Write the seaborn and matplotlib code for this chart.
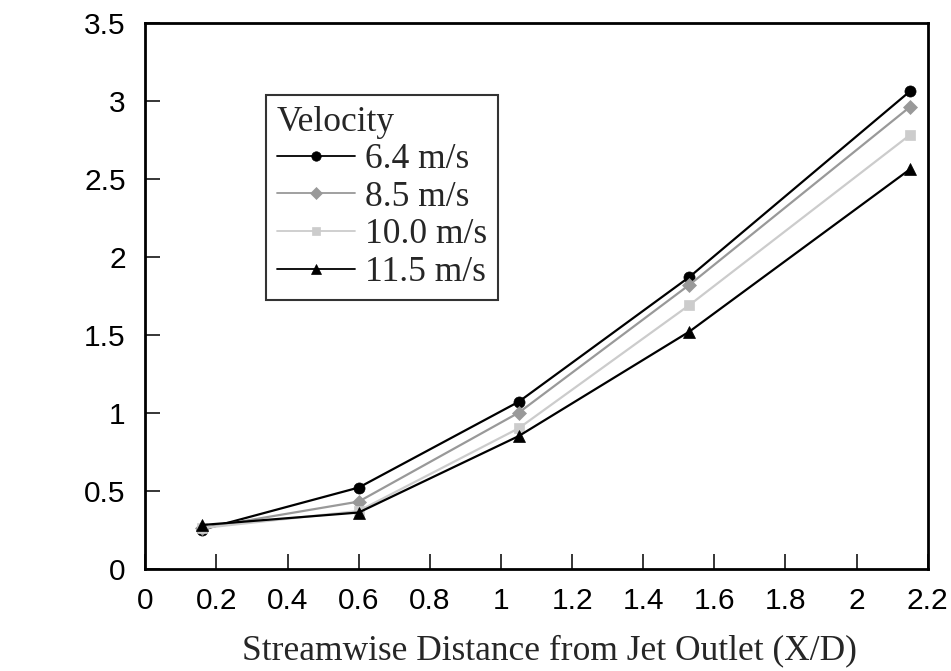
import matplotlib
matplotlib.use("Agg")
import matplotlib.pyplot as plt
import seaborn as sns
import pandas as pd

x_vals = [0.16, 0.60, 1.05, 1.53, 2.15]
v64 = [0.25, 0.52, 1.07, 1.87, 3.06]
v85 = [0.26, 0.43, 1.00, 1.82, 2.96]
v100 = [0.26, 0.37, 0.90, 1.69, 2.78]
v115 = [0.28, 0.36, 0.85, 1.52, 2.56]
labels = ["6.4 m/s", "8.5 m/s", "10.0 m/s", "11.5 m/s"]
series = [v64, v85, v100, v115]
x_ticks = [0, 0.2, 0.4, 0.6, 0.8, 1, 1.2, 1.4, 1.6, 1.8, 2, 2.2]
x_ticklabels = ["0", "0.2", "0.4", "0.6", "0.8", "1", "1.2", "1.4", "1.6", "1.8", "2", "2.2"]
y_ticks = [0, 0.5, 1, 1.5, 2, 2.5, 3, 3.5]
y_ticklabels = ["0", "0.5", "1", "1.5", "2", "2.5", "3", "3.5"]

rows = []
for lab, ys in zip(labels, series):
    for x, y in zip(x_vals, ys):
        rows.append({"x": x, "y": y, "Velocity": lab})
df = pd.DataFrame(rows)

sns.set_theme(style="white")
plt.rcParams['font.family'] = ['Liberation Sans', 'DejaVu Sans']

fig = plt.figure(figsize=(9.51, 6.71), dpi=100)
ax = fig.add_axes([0.1528, 0.1525, 0.8227, 0.8137])

palette = {"6.4 m/s": "#000000", "8.5 m/s": "#999999", "10.0 m/s": "#cccccc", "11.5 m/s": "#000000"}
markers = {"6.4 m/s": "o", "8.5 m/s": "D", "10.0 m/s": "s", "11.5 m/s": "^"}
msize = {"6.4 m/s": 8, "8.5 m/s": 7, "10.0 m/s": 7.5, "11.5 m/s": 9}
for lab in labels:
    sub = df[df["Velocity"] == lab]
    sns.lineplot(data=sub, x="x", y="y", ax=ax, color=palette[lab], marker=markers[lab],
                 markersize=msize[lab], markeredgecolor=palette[lab], markeredgewidth=0.5,
                 linewidth=1.6, label=lab)

ax.set_xlim(0, 2.2)
ax.set_ylim(0, 3.5)
ax.set_xticks(x_ticks)
ax.set_xticklabels(x_ticklabels)
ax.set_yticks(y_ticks)
ax.set_yticklabels(y_ticklabels)
ax.tick_params(axis="both", direction="in", length=11, width=1.1, labelsize=21.5,
               colors="black", bottom=True, left=True)
ax.tick_params(axis="x", pad=13)
ax.tick_params(axis="y", pad=14)
for s in ax.spines.values():
    s.set_color("black")
    s.set_linewidth(2)

ax.set_xlabel("Streamwise Distance from Jet Outlet (X/D)", family="Liberation Serif",
              fontsize=25.5, labelpad=14)
ax.xaxis.label.set_x(0.517)
ax.set_ylabel("")

leg = ax.legend(title="Velocity", loc="upper left", bbox_to_anchor=(0.1543, 0.8676),
                frameon=True, fancybox=False, edgecolor="black", handlelength=2.2,
                prop={"family": "Liberation Serif", "size": 25.5},
                title_fontproperties={"family": "Liberation Serif", "size": 25.5},
                borderpad=0.3, labelspacing=0.13, handletextpad=0.3, borderaxespad=0,
                markerscale=0.85)
leg._legend_box.align = "left"
leg.get_frame().set_linewidth(1.5)
for line in leg.get_lines():
    line.set_linewidth(1.3)

fig.savefig("out.png", dpi=100)
